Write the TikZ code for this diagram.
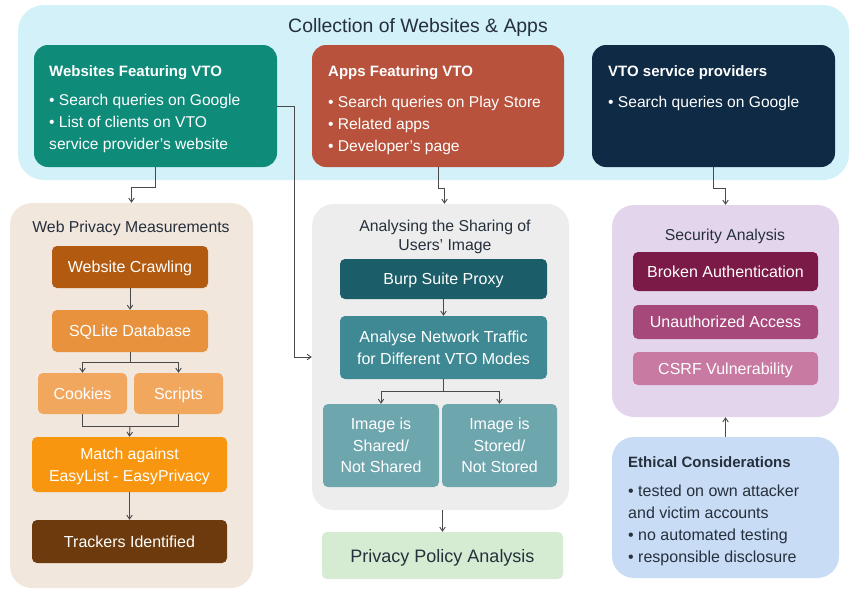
\documentclass[tikz,border=0pt]{standalone}
\usepackage{fontspec}
\setmainfont{Liberation Sans}
\usetikzlibrary{arrows.meta}
\definecolor{toppanel}{HTML}{D2F1F9}
\definecolor{tealbox}{HTML}{0F8B7A}
\definecolor{redbox}{HTML}{B8523C}
\definecolor{navybox}{HTML}{0F2A44}
\definecolor{darktext}{HTML}{26303C}
\definecolor{wpmpanel}{HTML}{F1E7DD}
\definecolor{crawlc}{HTML}{B25A10}
\definecolor{sqlc}{HTML}{E8923E}
\definecolor{cookc}{HTML}{F1A85E}
\definecolor{matchc}{HTML}{F8970F}
\definecolor{trackc}{HTML}{6C3A0C}
\definecolor{midpanel}{HTML}{EDEDED}
\definecolor{burpc}{HTML}{1B5D68}
\definecolor{analc}{HTML}{3E8994}
\definecolor{imgc}{HTML}{6EA6AE}
\definecolor{privc}{HTML}{D5ECD3}
\definecolor{secpanel}{HTML}{E3D6EC}
\definecolor{brokc}{HTML}{7B1947}
\definecolor{unauc}{HTML}{A7487A}
\definecolor{csrfc}{HTML}{C87AA2}
\definecolor{ethc}{HTML}{C9DCF6}
\definecolor{linec}{HTML}{4A4A4A}
\tikzset{
  panel/.style={rounded corners=22pt, draw=none, inner sep=0pt},
  bigbox/.style={rounded corners=14pt, draw=none, inner sep=0pt},
  inbox/.style={rounded corners=5pt, draw=none, inner sep=0pt, text=white, font=\fontsize{16}{19}\selectfont, align=center, text depth=0pt},
  boxtext/.style={anchor=north west, inner sep=0pt, align=left, text=white, font=\fontsize{15.6}{22}\selectfont},
  ptitle/.style={text=darktext, font=\fontsize{15.8}{19}\selectfont, align=center, inner sep=0pt},
  conn/.style={draw=linec, line width=0.9pt, -{Straight Barb[length=4pt,width=5.5pt]}},
  connplain/.style={draw=linec, line width=0.9pt}
}
\begin{document}
\begin{tikzpicture}[x=1pt,y=-1pt]
\useasboundingbox (0,0) rectangle (851,592);
\fill[white] (0,0) rectangle (851,592);

% top panel
\node[panel, rounded corners=26pt, fill=toppanel, minimum width=831pt, minimum height=175pt] (top) at (433.5,92.5) {};
\node[text=darktext, font=\fontsize{19.4}{22}\selectfont, inner sep=0pt] (toptitle) at (418,27) {Collection of Websites \& Apps};

\node[bigbox, fill=tealbox, minimum width=243pt, minimum height=122pt] (web) at (155.5,106) {};
\node[boxtext] (webtxt) at (49,65) {{\fontsize{15}{22}\selectfont\textbf{Websites Featuring VTO}}\\[7pt]• Search queries on Google\\• List of clients on VTO\\service provider’s website};

\node[bigbox, fill=redbox, minimum width=252pt, minimum height=122pt] (apps) at (438,106) {};
\node[boxtext] (appstxt) at (328,65) {{\fontsize{15}{22}\selectfont\textbf{Apps Featuring VTO}}\\[9pt]• Search queries on Play Store\\• Related apps\\• Developer’s page};

\node[bigbox, fill=navybox, minimum width=243pt, minimum height=122pt] (prov) at (713.5,106) {};
\node[boxtext] (provtxt) at (608,65) {{\fontsize{15}{22}\selectfont\textbf{VTO service providers}}\\[9pt]• Search queries on Google};

% web privacy panel
\node[panel, fill=wpmpanel, minimum width=243pt, minimum height=385pt] (wpm) at (131.5,395.5) {};
\node[ptitle] (wpmtitle) at (131,228) {Web Privacy Measurements};
\node[inbox, fill=crawlc, minimum width=156pt, minimum height=42pt] (crawl) at (130,267) {Website Crawling};
\node[inbox, fill=sqlc, minimum width=156pt, minimum height=42pt] (sql) at (130,331) {SQLite Database};
\node[inbox, fill=cookc, minimum width=89pt, minimum height=41pt] (cook) at (82.5,393.5) {Cookies};
\node[inbox, fill=cookc, minimum width=89pt, minimum height=41pt] (scr) at (178.5,393.5) {Scripts};
\node[inbox, fill=matchc, minimum width=195pt, minimum height=55pt, font=\fontsize{15.8}{22}\selectfont] (match) at (129.5,464.5) {Match against\\EasyList - EasyPrivacy};
\node[inbox, fill=trackc, minimum width=195pt, minimum height=43pt] (track) at (129.5,541.5) {Trackers Identified};

% middle panel
\node[panel, fill=midpanel, minimum width=257pt, minimum height=306pt] (mid) at (440.5,357) {};
\node[ptitle] (midtitle) at (445,237) {Analysing the Sharing of\\Users’ Image};
\node[inbox, fill=burpc, minimum width=207pt, minimum height=40pt] (burp) at (443.5,279) {Burp Suite Proxy};
\node[inbox, fill=analc, minimum width=207pt, minimum height=63pt, font=\fontsize{16}{22}\selectfont] (anal) at (443.5,347.5) {Analyse Network Traffic\\for Different VTO Modes};
\node[inbox, fill=imgc, minimum width=116pt, minimum height=83pt, font=\fontsize{16}{21.5}\selectfont] (shared) at (381,445.5) {Image is\\Shared/\\Not Shared};
\node[inbox, fill=imgc, minimum width=115pt, minimum height=83pt, font=\fontsize{16}{21.5}\selectfont] (stored) at (499.5,445.5) {Image is\\Stored/\\Not Stored};
\node[inbox, fill=privc, minimum width=241pt, minimum height=47pt, text=darktext, font=\fontsize{18}{20}\selectfont] (priv) at (442.5,555.5) {Privacy Policy Analysis};

% security panel
\node[panel, fill=secpanel, minimum width=227pt, minimum height=212pt] (sec) at (725.5,311) {};
\node[ptitle] (sectitle) at (725,236) {Security Analysis};
\node[inbox, fill=brokc, minimum width=185pt, minimum height=39pt] (brok) at (725.5,271.5) {Broken Authentication};
\node[inbox, fill=unauc, minimum width=185pt, minimum height=34pt] (unau) at (725.5,322) {Unauthorized Access};
\node[inbox, fill=csrfc, minimum width=185pt, minimum height=33pt] (csrf) at (725.5,368.5) {CSRF Vulnerability};

\node[panel, fill=ethc, minimum width=227pt, minimum height=141pt] (eth) at (725.5,507.5) {};
\node[boxtext, text=darktext, font=\fontsize{16}{22}\selectfont] (ethtxt) at (628,456) {{\fontsize{15}{22}\selectfont\textbf{Ethical Considerations}}\\[7pt]• tested on own attacker\\and victim accounts\\• no automated testing\\• responsible disclosure};

% connectors
\draw[conn] (web.south) -- ++(0,20) -| (wpm.north);
\draw[conn] (web.east) -- ++(17,0) |- (mid.west);
\draw[conn] (apps.south) -- ++(0,21) -| ([xshift=4pt]mid.north);
\draw[conn] (prov.south) -- ++(0,21) -| (sec.north);

\draw[conn] (crawl) -- (sql);
\draw[conn] (sql.south) -- ++(0,10) -| (cook.north);
\draw[conn] (sql.south) -- ++(0,10) -| (scr.north);
\draw[connplain] (cook.south) -- ++(0,12) -| (scr.south);
\coordinate (merge) at (130,426);
\draw[conn] (merge) -- (match.north);
\draw[conn] (match) -- (track);

\draw[conn] (burp) -- (anal);
\draw[conn] (anal.south) -- ++(0,12) -| (shared.north);
\draw[conn] (anal.south) -- ++(0,12) -| (stored.north);
\draw[conn] ([xshift=2pt]mid.south) -- ([xshift=0pt]priv.north);

\draw[conn] (eth) -- (sec);
\end{tikzpicture}
\end{document}
